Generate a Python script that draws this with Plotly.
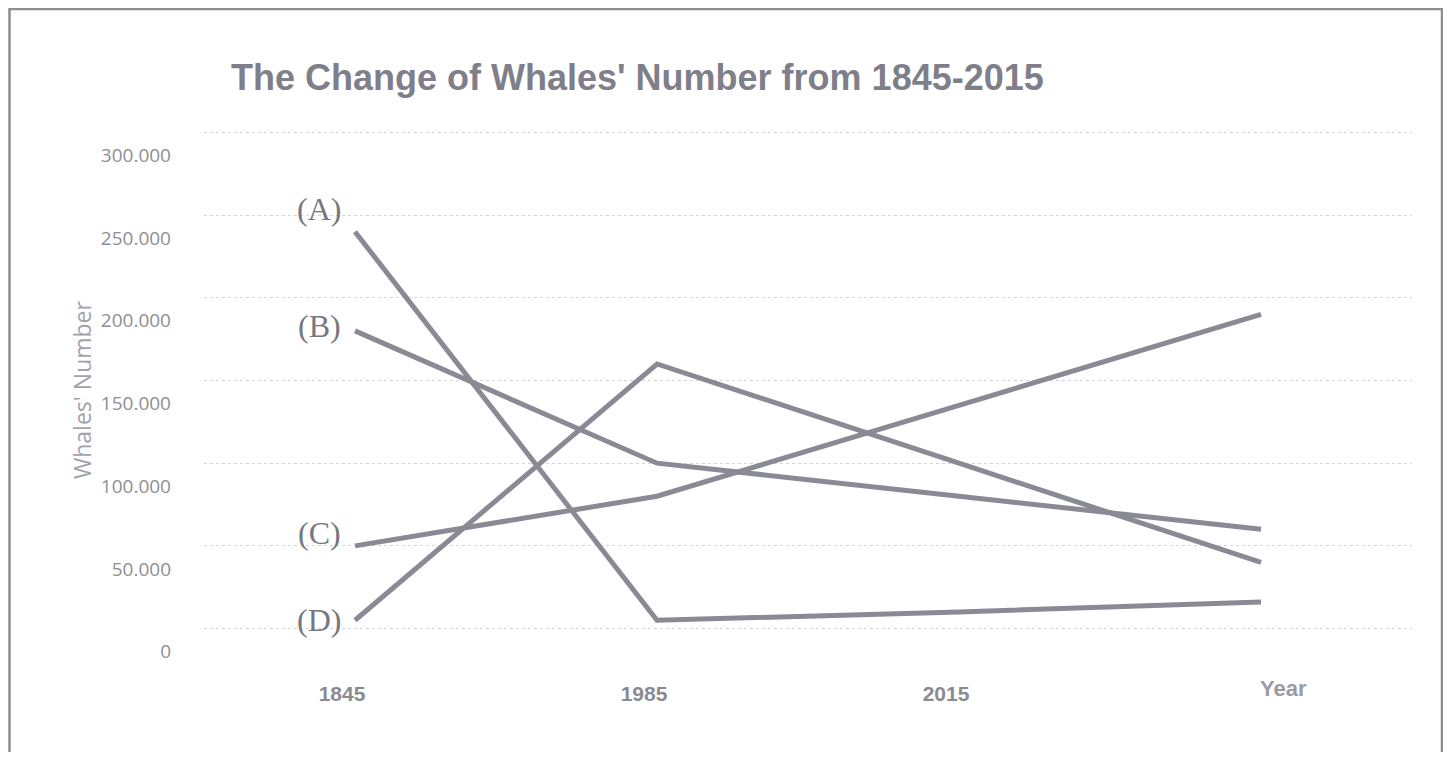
import plotly.graph_objects as go

# ---- data ----
x_labels = ["1845", "1985", "2015", ""]
series_names = ["(A)", "(B)", "(C)", "(D)"]
series_A = [240000, 5000, 10000, 16000]
series_B = [180000, 100000, 80000, 60000]
series_C = [50000, 80000, 135000, 190000]
series_D = [5000, 160000, 100000, 40000]
y_tick_values = [0, 50000, 100000, 150000, 200000, 250000, 300000]
y_tick_labels = ["0", "50.000", "100.000", "150.000", "200.000", "250.000", "300.000"]
title_text = "The Change of Whales' Number from 1845-2015"
y_title = "Whales' Number"
x_title = "Year"

# ---- layout geometry (figure pixels) ----
W, H = 1435, 744
L, R, T, B = 196, 31, 122, 121
PW = W - L - R
PH = H - T - B

def px_to_paper_x(fx):
    return (fx - L) / PW

def px_to_paper_y(fy):
    return (H - B - fy) / PH

line_color = "#8a8a95"
label_shifts = [(-12, 23), (-12, 5), (-12, 13), (-12, 0)]

fig = go.Figure()
xs = list(range(len(x_labels)))
all_series = [series_A, series_B, series_C, series_D]
for name, vals in zip(series_names, all_series):
    fig.add_trace(go.Scatter(x=xs, y=vals, mode="lines", name=name,
                             line=dict(color=line_color, width=5),
                             showlegend=False, hoverinfo="skip"))

annotations = []
for name, vals, (dx, dy) in zip(series_names, all_series, label_shifts):
    annotations.append(dict(x=xs[0], y=vals[0], xref="x", yref="y", text=name,
                            showarrow=False, xanchor="right", yanchor="middle",
                            xshift=dx, yshift=dy,
                            font=dict(family="Liberation Serif, Times New Roman, serif",
                                      size=32, color="#77777f")))

annotations.append(dict(x=px_to_paper_x(1275), y=px_to_paper_y(680), xref="paper", yref="paper",
                        text=x_title, showarrow=False, xanchor="center", yanchor="middle",
                        font=dict(family="Liberation Sans, Arial, sans-serif", size=22,
                                  color="#9a9aa4", weight="bold")))
annotations.append(dict(x=px_to_paper_x(74), y=px_to_paper_y(382), xref="paper", yref="paper",
                        text=y_title, showarrow=False, textangle=-90,
                        xanchor="center", yanchor="middle",
                        font=dict(family="Open Sans, sans-serif", size=23, color="#a2a2aa")))
annotations.append(dict(x=px_to_paper_x(221), y=px_to_paper_y(70), xref="paper", yref="paper",
                        text=title_text, showarrow=False, xanchor="left", yanchor="middle",
                        font=dict(family="Liberation Sans, Arial, sans-serif", size=36,
                                  color="#7f7f8a", weight="bold")))

shapes = [dict(type="rect", xref="paper", yref="paper",
               x0=px_to_paper_x(1.5), x1=px_to_paper_x(1434), y0=px_to_paper_y(800), y1=px_to_paper_y(1),
               line=dict(color="#8c8c92", width=2.5), fillcolor="rgba(0,0,0,0)", layer="above")]

fig.update_layout(
    width=W, height=H,
    margin=dict(l=L, r=R, t=T, b=B, pad=0),
    paper_bgcolor="white", plot_bgcolor="white",
    annotations=annotations, shapes=shapes,
    xaxis=dict(range=[-0.5, 3.5], tickvals=xs, ticktext=x_labels, showgrid=False,
               zeroline=False, showline=False, ticks="",
               ticklabelshift=-13, ticklabelstandoff=48,
               tickfont=dict(family="Liberation Sans, Arial, sans-serif", size=21,
                             color="#8a8a92", weight="bold")),
    yaxis=dict(range=[-1500, 301500], tickvals=y_tick_values, ticktext=y_tick_labels,
               showgrid=True, gridcolor="#d4d4d8", griddash="dot", gridwidth=1.2,
               zeroline=False, showline=False, ticks="",
               ticklabelshift=23, ticklabelstandoff=32,
               tickfont=dict(family="Open Sans, sans-serif", size=19, color="#8e8e94")),
)

fig.write_html("out.html")
